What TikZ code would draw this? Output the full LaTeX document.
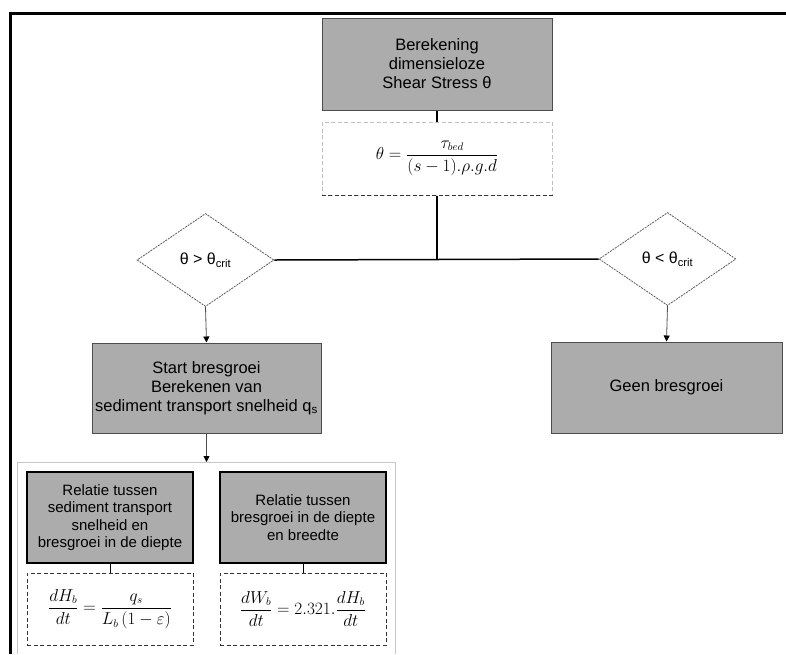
\documentclass[tikz,border=0pt]{standalone}
\usepackage{amsmath}
\usepackage{fontspec}
\setmainfont{Liberation Sans}
\usetikzlibrary{shapes.geometric,arrows.meta}
\definecolor{boxgray}{RGB}{172,172,172}
\begin{document}
\begin{tikzpicture}[x=1pt,y=-1pt,
  font=\fontsize{16.5}{19}\selectfont,
  graybox/.style={draw=gray!60!black, line width=1pt, fill=boxgray, align=center, inner sep=2pt},
  darkbox/.style={draw=black, line width=1.6pt, fill=boxgray, align=center, inner sep=2pt, font=\fontsize{15}{17.5}\selectfont},
  formbox/.style={draw=black!80, line width=1pt, dash pattern=on 4pt off 2.5pt, fill=white, inner sep=2pt, font=\fontsize{16}{19}\selectfont},
  decision/.style={diamond, draw=gray!70!black, line width=0.8pt, dash pattern=on 2pt off 1pt, inner sep=0pt, minimum width=137pt, minimum height=93pt, font=\fontsize{16}{19}\selectfont},
  link/.style={line width=1.5pt, black},
  flow/.style={line width=0.8pt, gray!60!black, -{Triangle[length=6pt,width=6pt,color=black]}}
]
\useasboundingbox (0,0) rectangle (786,654);
% outer frame
\draw[line width=3pt] (10,654) -- (10,13) -- (786,13);
% container of the lower part
\draw[line width=0.8pt, gray!45] (17,654) -- (17,462) -- (395,462) -- (395,654);

\node[graybox, minimum width=230pt, minimum height=92pt] (top) at (437,64)
  {Berekening\\dimensieloze\\Shear Stress θ};
\node[formbox, draw=gray!50, minimum width=230pt, minimum height=73pt] (form) at (437,158.5)
  {\raisebox{-4pt}{$\theta = \dfrac{\tau_{bed}}{(s-1).\rho.g.d}$}};
\draw[line width=1pt, black!80, dash pattern=on 4pt off 2.5pt] (form.south west) -- (form.south east);

\node[decision] (ld) at (205.5,260) {θ > θ\textsubscript{crit}};
\node[decision] (rd) at (667.5,259) {θ < θ\textsubscript{crit}};

\node[graybox, minimum width=229pt, minimum height=90pt] (start) at (206.5,388)
  {Start bresgroei\\Berekenen van\\sediment transport snelheid q\textsubscript{s}};
\node[graybox, minimum width=231pt, minimum height=91pt] (geen) at (666.5,387.5)
  {Geen bresgroei};

\node[darkbox, minimum width=166pt, minimum height=91pt] (rel1) at (110,517.5)
  {Relatie tussen\\sediment transport\\snelheid en\\bresgroei in de diepte};
\node[darkbox, minimum width=166pt, minimum height=91pt] (rel2) at (303,517.5)
  {Relatie tussen\\bresgroei in de diepte\\en breedte};

\node[formbox, minimum width=166pt, minimum height=72pt] (f1) at (110,609)
  {$\dfrac{dH_b}{dt} = \dfrac{q_s}{L_b\,(1-\varepsilon)}$};
\node[formbox, minimum width=166pt, minimum height=72pt] (f2) at (303,609)
  {$\dfrac{dW_b}{dt} = 2.321.\dfrac{dH_b}{dt}$};

\coordinate (junc) at (437,260);
\coordinate (cont) at (206.5,462);

% connectors
\draw[link] (top.south) -- (form.north);
\draw[link] (form.south) -- (junc);
\draw[link] (ld.east) -- (rd.west);
\draw[flow] (ld.south) -- (start.north);
\draw[flow] (rd.south) -- (geen.north);
\draw[flow] (start.south) -- (cont);
\draw[link, line width=1pt] (rel1.south) -- (f1.north);
\draw[link, line width=1pt] (rel2.south) -- (f2.north);
\end{tikzpicture}
\end{document}
